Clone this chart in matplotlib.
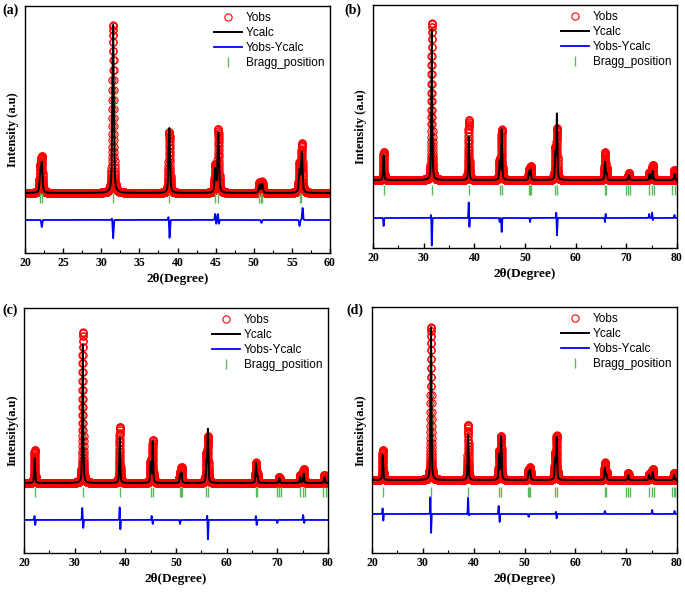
import numpy as np
import matplotlib
matplotlib.use("Agg")
import matplotlib.pyplot as plt
from matplotlib.ticker import MultipleLocator

# ---- data (intensity in arbitrary units) ----
# panel (a)
a_pos = [22.0, 22.2, 31.55, 38.92, 44.95, 45.35, 50.75, 51.1, 56.0, 56.3]
a_calc = [18, 28, 168, 65, 23, 60, 8, 9, 22, 40]
a_obs = [22, 33, 168, 61, 27, 63, 10, 11, 28, 48]
a_bragg = [22.0, 22.2, 31.55, 38.92, 44.95, 45.35, 50.7, 50.9, 51.1, 56.0, 56.2]
a_diff_pos = [22.2, 31.45, 31.55, 38.85, 38.95, 44.95, 45.05, 45.3, 45.4, 51.0, 56.0, 56.4]
a_diff_amp = [-7, 3, -19, 5, -19, 7, -5, 7, -5, -3, -6, 12]
a_levels = [60, 55, 33, 247]  # background, bragg row, difference zero, y max

# panel (b)
b_pos = [22.1, 31.6, 38.9, 45.0, 45.4, 50.8, 51.1, 56.0, 56.3, 65.8, 66.1, 70.5, 74.6, 75.2, 79.5]
b_calc = [25, 150, 43, 18, 50, 8, 10, 25, 65, 18, 6, 5, 6, 9, 6]
b_obs = [28, 157, 60, 20, 50, 10, 13, 30, 50, 27, 10, 7, 8, 15, 10]
b_bragg = [22.1, 31.6, 38.9, 45.0, 45.4, 50.7, 50.9, 51.1, 56.0, 56.3,
           65.8, 66.0, 69.9, 70.4, 70.7, 74.5, 75.1, 75.4, 79.0, 79.6]
b_diff_pos = [22.1, 31.5, 31.6, 38.9, 39.0, 45.0, 45.4, 51.0, 56.2, 56.3, 65.8, 65.9, 74.5, 75.1, 75.2, 79.5]
b_diff_amp = [-8, 6, -29, 18, -12, -4, -14, -4, 8, -19, -5, 5, 4, 6, -3, 3]
b_levels = [68, 58, 30, 243]

# panel (c)
c_pos = [22.1, 31.6, 38.9, 45.0, 45.4, 50.8, 51.1, 56.0, 56.3, 65.8, 66.1, 70.4, 74.5, 75.2, 79.3]
c_calc = [25, 138, 45, 20, 41, 8, 10, 20, 53, 20, 6, 5, 6, 9, 6]
c_obs = [33, 151, 56, 22, 42, 10, 15, 27, 45, 20, 8, 6, 8, 14, 8]
c_bragg = [22.1, 31.6, 38.9, 45.0, 45.4, 50.7, 50.9, 51.1, 56.0, 56.3,
           65.8, 66.0, 69.9, 70.4, 70.7, 74.5, 75.1, 75.4, 79.0, 79.6]
c_diff_pos = [22.1, 22.2, 31.5, 31.7, 38.9, 39.0, 45.2, 45.4, 50.8, 56.2, 56.3, 65.8, 65.9, 70.0, 75.1, 75.3]
c_diff_amp = [5, -6, 12, -8, 15, -12, 4, -4, -4, 7, -21, 5, -6, -3, 5, -3]
c_levels = [70, 61, 33, 245]

# panel (d)
d_pos = [22.1, 31.6, 38.9, 45.0, 45.4, 50.8, 51.1, 56.0, 56.3, 65.8, 66.1, 70.4, 74.5, 75.2, 79.4]
d_calc = [25, 153, 45, 25, 43, 8, 10, 20, 42, 12, 5, 5, 5, 8, 5]
d_obs = [30, 153, 55, 28, 43, 10, 12, 25, 43, 17, 8, 7, 6, 11, 7]
d_bragg = [22.1, 31.6, 38.9, 45.0, 45.4, 50.7, 50.9, 51.1, 56.0, 56.3,
           65.8, 66.0, 69.9, 70.4, 70.7, 74.5, 75.1, 75.4, 79.0, 79.4, 79.6]
d_diff_pos = [22.1, 22.2, 31.5, 31.6, 38.9, 39.0, 44.9, 45.1, 50.8, 56.2, 56.3, 65.8, 75.1, 79.5]
d_diff_amp = [7, -8, 21, -23, 17, -3, 8, -8, -3, 3, -5, 3, 4, 3]
d_levels = [73, 61, 39, 246]

x_ranges = [(20, 60), (20, 80), (20, 80), (20, 80)]
x_major = [5, 10, 10, 10]
panel_tags = ["(a)", "(b)", "(c)", "(d)"]
ylabels = ["Intensity (a.u)", "Intensity (a.u)", "Intensity(a.u)", "Intensity(a.u)"]

# axes boxes in figure fractions (left, bottom, width, height)
boxes = [[0.0365, 0.5734, 0.4453, 0.4165],
         [0.5445, 0.5818, 0.4438, 0.4098],
         [0.0350, 0.0675, 0.4438, 0.4132],
         [0.5431, 0.0675, 0.4453, 0.4148]]
tag_xy = [(0.003, 0.983), (0.503, 0.983), (0.003, 0.477), (0.506, 0.477)]

fwhm = 0.22
eta = 0.5
serif = "Liberation Serif"
sans = "Liberation Sans"


def profile(x, pos, heights):
    # pseudo-Voigt sum
    y = np.zeros_like(x)
    for p, h in zip(pos, heights):
        d = (x - p) / (fwhm / 2)
        lor = 1 / (1 + d ** 2)
        gau = np.exp(-np.log(2) * d ** 2)
        y += h * (eta * lor + (1 - eta) * gau)
    return y


def spikes(x, pos, amps):
    y = np.zeros_like(x)
    for p, a in zip(pos, amps):
        y += a * np.exp(-0.5 * ((x - p) / 0.06) ** 2)
    return y


panels = [
    (a_pos, a_calc, a_obs, a_bragg, a_diff_pos, a_diff_amp, a_levels),
    (b_pos, b_calc, b_obs, b_bragg, b_diff_pos, b_diff_amp, b_levels),
    (c_pos, c_calc, c_obs, c_bragg, c_diff_pos, c_diff_amp, c_levels),
    (d_pos, d_calc, d_obs, d_bragg, d_diff_pos, d_diff_amp, d_levels),
]

fig = plt.figure(figsize=(6.85, 5.93), dpi=100)

for i, (pos, calc, obs, bragg, dpos, damp, levels) in enumerate(panels):
    bg, bragg_y, diff_y, ymax = levels
    x0, x1 = x_ranges[i]
    x = np.arange(x0, x1 + 0.001, 0.01)
    ycalc = bg + profile(x, pos, calc)
    yobs = bg + profile(x, pos, obs)
    ydiff = diff_y + spikes(x, dpos, damp)

    ax = fig.add_axes(boxes[i])
    ax.plot(x, yobs, "o", ms=5.2, mfc="none", mec="#ff0000", mew=0.8, label="Yobs")
    ax.plot(x, ycalc, "-", color="black", lw=1.4, label="Ycalc")
    ax.plot(x, ydiff, "-", color="#0000ff", lw=1.3, label="Yobs-Ycalc")
    ax.plot(bragg, [bragg_y] * len(bragg), "|", ms=7, mew=1.0, color="#5cb85c",
            label="Bragg_position")

    ax.set_xlim(x0, x1)
    ax.set_ylim(0, ymax)
    ax.set_yticks([])
    ax.xaxis.set_major_locator(MultipleLocator(x_major[i]))
    ax.xaxis.set_minor_locator(MultipleLocator(x_major[i] / 2))
    ax.tick_params(axis="x", which="major", direction="in", length=3.5, width=1, pad=3)
    ax.tick_params(axis="x", which="minor", direction="in", length=2, width=0.8)
    for lab in ax.get_xticklabels():
        lab.set_fontfamily(serif)
        lab.set_fontweight("bold")
        lab.set_fontsize(8.5)
    for s in ax.spines.values():
        s.set_linewidth(1.0)

    ax.set_xlabel("2θ(Degree)", fontfamily=serif, fontweight="bold", fontsize=9.5, labelpad=3)
    ax.set_ylabel(ylabels[i], fontfamily=serif, fontweight="bold", fontsize=9, labelpad=4)

    ax.legend(loc="upper right", frameon=False, numpoints=1,
              prop={"family": sans, "size": 8.5},
              handlelength=2.4, handletextpad=0.3, labelspacing=0.25,
              borderaxespad=0.2, borderpad=0.3)

    fig.text(tag_xy[i][0], tag_xy[i][1], panel_tags[i], fontfamily=serif,
             fontweight="bold", fontsize=10, va="center", ha="left")

fig.savefig("out.png", dpi=100)
